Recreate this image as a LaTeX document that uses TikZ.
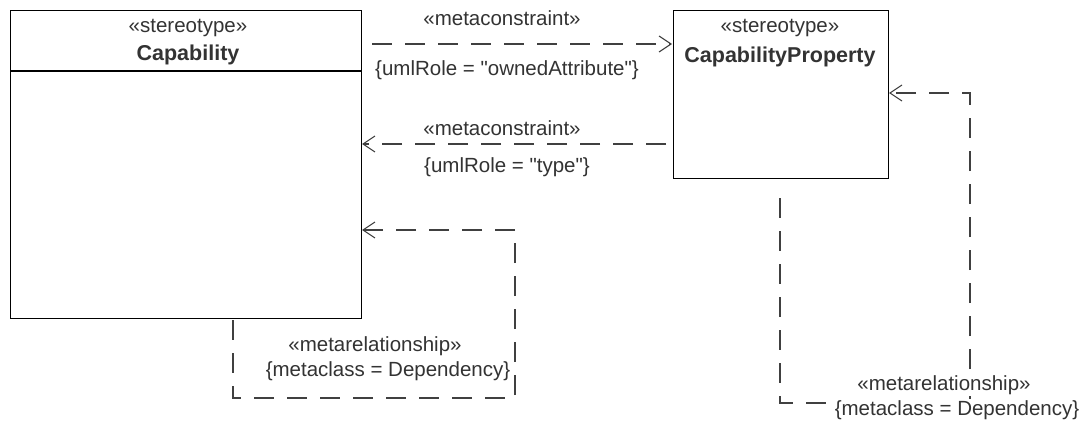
\documentclass[tikz,border=0pt]{standalone}
\usepackage{fontspec}
\setmainfont{Liberation Sans}[Ligatures=TeXOff]
\usetikzlibrary{arrows.meta}
\definecolor{txt}{HTML}{333333}
\definecolor{ln}{HTML}{404040}
\tikzset{
  cls/.style={draw=black, line width=1.4pt, fill=white},
  dep/.style={draw=ln, line width=1.2pt, dash pattern=on 20pt off 13pt},
  arr/.style={-{Straight Barb[length=12pt,width=16pt,line width=1.1pt]}},
  lbl/.style={text=txt, font=\fontsize{20.5}{24}\selectfont, inner sep=1pt, fill=white, align=center},
  ttl/.style={text=txt, font=\fontsize{20.5}{24}\selectfont, inner sep=0pt, align=center},
  bttl/.style={ttl, font=\fontsize{21.5}{24}\selectfont\bfseries},
}
\begin{document}
\begin{tikzpicture}[x=1pt,y=-1pt]
\useasboundingbox (0,0) rectangle (1084,433);
% classes
\node[cls, minimum width=351pt, minimum height=308pt, anchor=north west] (cap) at (10,10) {};
\draw[line width=1.4pt] (10,71) -- (361,71);
\node[ttl] (capS) at (188,28) {«stereotype»};
\node[bttl] (capN) at (188,55) {Capability};
\node[cls, minimum width=215pt, minimum height=168pt, anchor=north west] (prop) at (673,10) {};
\node[ttl] (propS) at (780,28) {«stereotype»};
\node[bttl] (propN) at (780,57) {CapabilityProperty};
% coordinates
\coordinate (a1s) at (372,44);
\coordinate (a1e) at (672,44);
\coordinate (a2s) at (666,144);
\coordinate (a2e) at (362,144);
\coordinate (l1s) at (233,320);
\coordinate (l1a) at (233,398);
\coordinate (l1b) at (515,398);
\coordinate (l1c) at (515,230);
\coordinate (l1e) at (362,230);
\coordinate (l2s) at (780,198);
\coordinate (l2a) at (780,403);
\coordinate (l2b) at (970,403);
\coordinate (l2c) at (970,93);
\coordinate (l2e) at (889,93);
% connectors
\draw[dep, arr] (a1s) -- (a1e);
\draw[dep, arr] (a2s) -- (a2e);
\draw[dep, arr] (l1s) -- (l1a) -- (l1b) -- (l1c) -- (l1e);
\draw[dep, arr] (l2s) -- (l2a) -- (l2b) -- (l2c) -- (l2e);
% labels
\node[lbl] (t1a) at (502,18) {«metaconstraint»};
\node[lbl] (t1b) at (507,70) {\{umlRole = "ownedAttribute"\}};
\node[lbl] (t2a) at (502,128) {«metaconstraint»};
\node[lbl] (t2b) at (507,167) {\{umlRole = "type"\}};
\node[lbl] (t3a) at (375,346) {«metarelationship»};
\node[lbl] (t3b) at (388,371) {\{metaclass = Dependency\}};
\node[lbl] (t4a) at (944,385) {«metarelationship»};
\node[lbl] (t4b) at (957,410) {\{metaclass = Dependency\}};
\end{tikzpicture}
\end{document}
